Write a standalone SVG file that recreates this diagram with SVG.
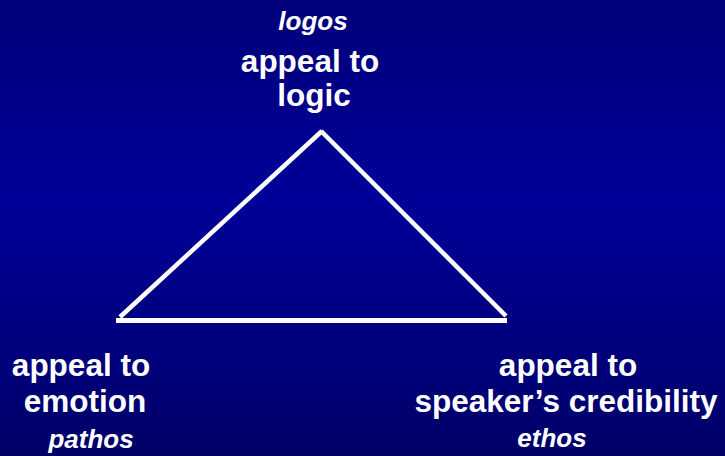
<svg xmlns="http://www.w3.org/2000/svg" width="725" height="456" viewBox="0 0 725 456">
<defs>
<linearGradient id="bg" x1="0" y1="0" x2="0" y2="1">
<stop offset="0" stop-color="#00007a"/>
<stop offset="0.44" stop-color="#000099"/>
<stop offset="1" stop-color="#000068"/>
</linearGradient>
</defs>
<style>
.t{font-family:"Liberation Sans",Arial,sans-serif;font-weight:bold;fill:#fff;font-size:31.5px;text-anchor:middle}
.i{font-family:"Liberation Sans",Arial,sans-serif;font-weight:bold;font-style:italic;fill:#fff;font-size:26px;text-anchor:middle}
.ln{stroke:#fff;fill:none}
</style>
<rect width="725" height="456" fill="url(#bg)"/>
<g id="connectors">
<line class="ln" x1="120" y1="317" x2="322" y2="131" stroke-width="4.5"/>
<line class="ln" x1="321" y1="131" x2="506" y2="316" stroke-width="4.5"/>
<line class="ln" x1="116" y1="320.5" x2="507" y2="320.5" stroke-width="5"/>
</g>
<g id="logic">
<text class="i" x="313" y="30">logos</text>
<text class="t" x="310" y="72">appeal to</text>
<text class="t" x="314" y="106">logic</text>
</g>
<g id="emotion">
<text class="t" x="81" y="376">appeal to</text>
<text class="t" x="85" y="412">emotion</text>
<text class="i" x="91" y="448">pathos</text>
</g>
<g id="credibility">
<text class="t" x="568" y="376">appeal to</text>
<text class="t" x="566" y="412">speaker’s credibility</text>
<text class="i" x="552" y="447">ethos</text>
</g>
</svg>
